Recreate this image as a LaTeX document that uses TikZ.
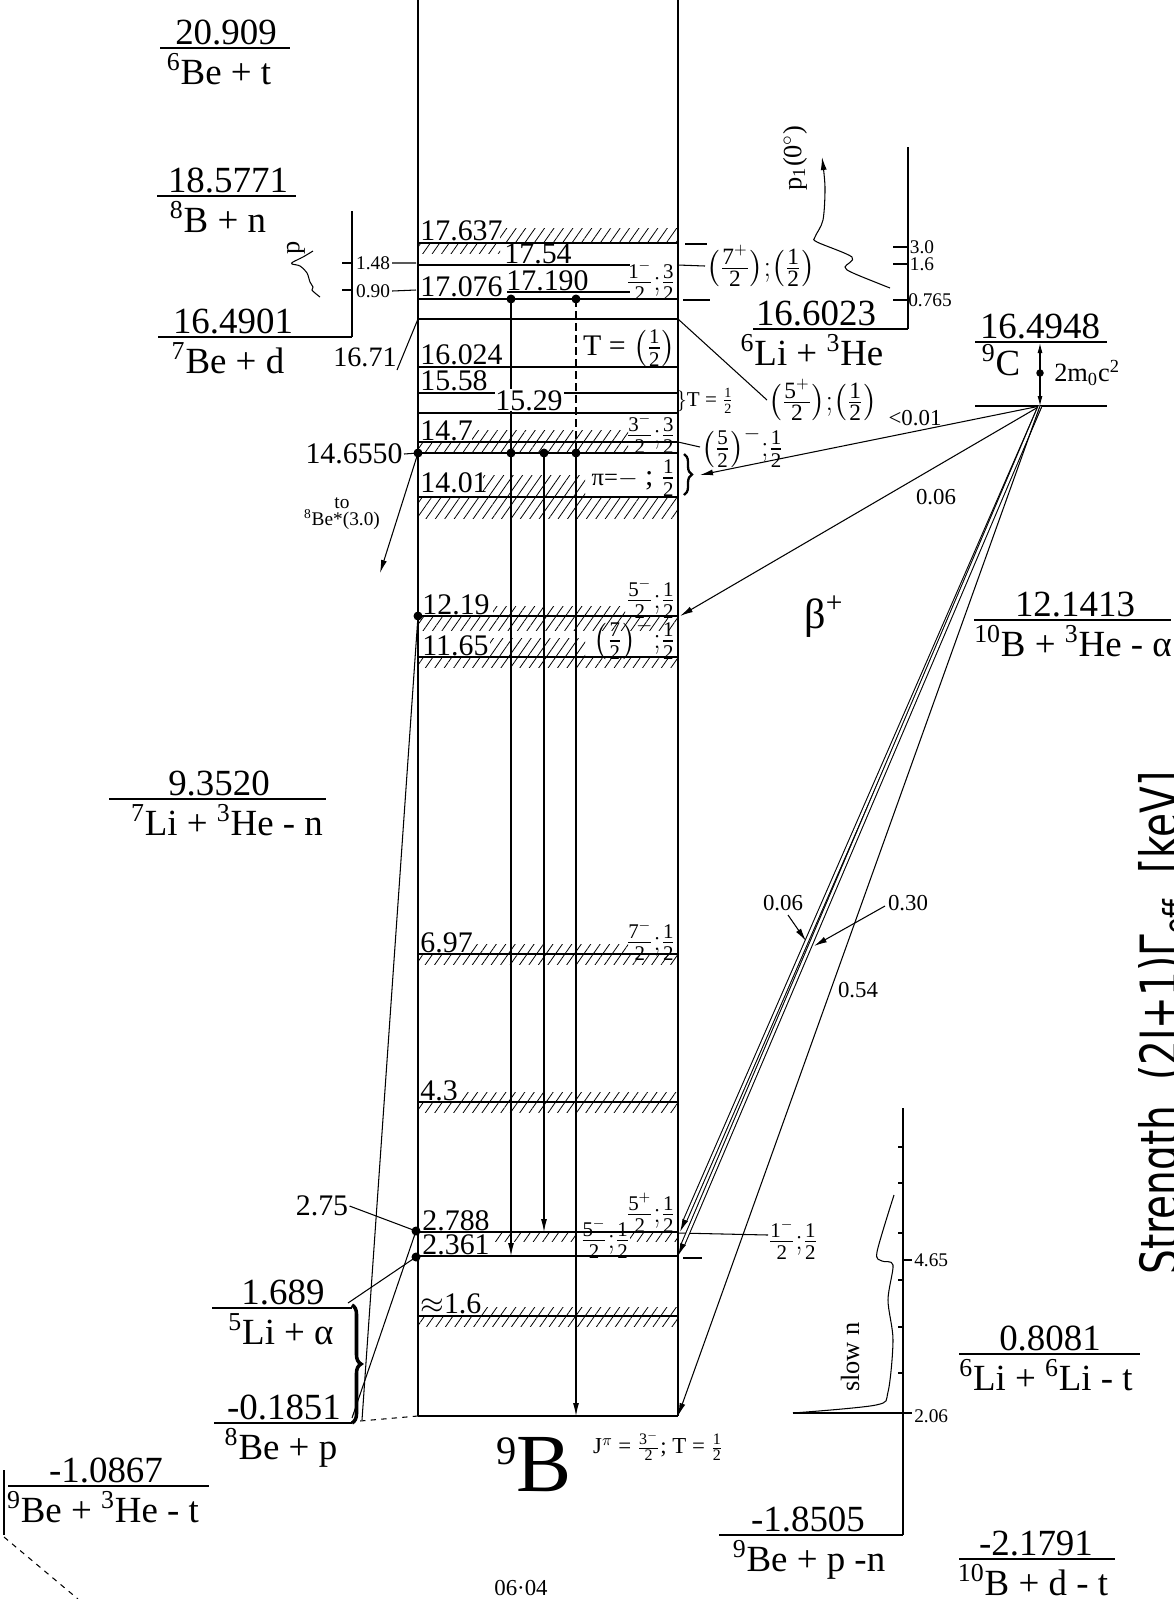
\documentclass[tikz,border=0pt]{standalone}
\usepackage{amsmath}
\usepackage{graphicx}
\usepackage{fontspec}
\setmainfont{Liberation Serif}
\newfontfamily\axisfont{DejaVu Sans}
\usetikzlibrary{arrows.meta,patterns.meta,decorations.pathreplacing}
\newcommand\hf[1]{\tfrac{\text{#1}}{\text{2}}}
\newcommand\hfp[2]{\tfrac{\text{#1}^{#2}}{\text{2}}}
\newcommand\sups[1]{\textsuperscript{#1}}
\begin{document}
\begin{tikzpicture}[x=0.2mm,y=-0.2mm,line width=0.6pt,
  hatch/.style={pattern={Lines[angle=55,distance=4.4pt,line width=0.45pt]}},
  thr/.style={font=\fontsize{21}{24}\selectfont,inner sep=0pt},
  elab/.style={font=\fontsize{17}{19}\selectfont,inner sep=0.5pt,anchor=base west},
  jlab/.style={font=\fontsize{17}{19}\selectfont,inner sep=0.5pt},
  jr/.style={jlab,anchor=east},
  smlab/.style={font=\fontsize{13}{15}\selectfont,inner sep=1pt},
  tnlab/.style={font=\fontsize{11}{13}\selectfont,inner sep=1pt},
  dot/.style={circle,fill,inner sep=0pt,minimum size=1.8mm},
  tip/.style={-{Latex[length=2.6mm,width=1.2mm]}}]
\useasboundingbox (0,0) rectangle (1174,1599);

\foreach \xa/\ya/\xb/\yb in {500/228/678/243, 418/243/500/253, 472/430/628/442, 418/442/628/453,
  483/475/585/497, 418/497/678/518, 493/606/625/616, 418/616/678/630, 490/638/585/657,
  418/657/678/667, 470/944/628/954, 418/954/678/964, 460/1092/678/1102, 418/1102/678/1112,
  493/1232/576/1241, 630/1232/678/1241, 480/1307/678/1316, 418/1316/678/1326}
  \fill[hatch] (\xa,\ya) rectangle (\xb,\yb);

\foreach \nm/\xa/\xb/\yy/\vx/\val/\rx/\reac in {
  a/160/290/48/226/20.909/219/{\sups{6}Be + t},
  b/157/296/196/228/18.5771/218/{\sups{8}B + n},
  c/158/352/337/233/16.4901/228/{\sups{7}Be + d},
  d/109/326/799/219/9.3520/227/{\sups{7}Li + \sups{3}He - n},
  e/212/352/1308/283/1.689/281/{\sups{5}Li + α},
  f/214/352/1423/284/-0.1851/281/{\sups{8}Be + p},
  g/8/209/1486/106/-1.0867/103/{\sups{9}Be + \sups{3}He - t},
  h/753/908/329/816/16.6023/812/{\sups{6}Li + \sups{3}He},
  i/974/1171/620/1075/12.1413/1073/{\sups{10}B + \sups{3}He - α},
  j/959/1140/1354/1050/0.8081/1046/{\sups{6}Li + \sups{6}Li - t},
  k/719/903/1535/808/-1.8505/809/{\sups{9}Be + p -n},
  l/959/1115/1559/1036/-2.1791/1033/{\sups{10}B + d - t}}
{\draw (\xa,\yy) -- (\xb,\yy);
 \node[thr,anchor=base] (v\nm) at (\vx,\yy-4) {\val};
 \node[thr,anchor=base] (r\nm) at (\rx,\yy+36) {\reac};}

\draw (975,342) -- (1107,342) (975,406) -- (1107,406);
\node[thr,anchor=base] (vC) at (1040,338) {16.4948};
\node[thr,anchor=base] (rC) at (1001,375) {\sups{9}C};
\coordinate (c9) at (1040,406);
\coordinate (c9t) at (1040,343);
\draw[{Latex[length=2mm,width=1mm]}-{Latex[length=2mm,width=1mm]}] (c9t) -- (c9);
\node[dot,minimum size=1.5mm] (m9) at (1040,373) {};
\node[smlab,anchor=west,font=\fontsize{15}{17}\selectfont] (mc) at (1052,373) {2m\textsubscript{0}c\sups{2}};

\draw (418,0) -- (418,1416) (678,0) -- (678,1416);
\foreach \yy in {243,299,319,367,393,413,442,453,497,616,657,954,1102,1232,1256,1316,1416}
  \draw (418,\yy) -- (678,\yy);
\draw (418,265) -- (630,265) (507,292) -- (630,292);

\node[dot] (d1) at (511,299) {};
\node[dot] (d2) at (576,299) {};
\node[dot] (d0) at (418,453) {};
\node[dot] (d3) at (511,453) {};
\node[dot] (d4) at (544,453) {};
\node[dot] (d5) at (576,453) {};
\node[dot] (d6) at (418,616) {};
\node[dot] (d7) at (416,1231) {};
\node[dot] (d8) at (416,1257) {};
\draw[tip] (d1.center) -- (511,1256);
\draw[tip] (d4.center) -- (544,1232);
\draw[dash pattern=on 1.6mm off 0.8mm] (d2.center) -- (d5.center);
\draw[tip] (d5.center) -- (576,1416);

\node[elab] (e1) at (419,240) {17.637};
\node[elab] (e2) at (503,263) {17.54};
\node[elab] (e3) at (419,296) {17.076};
\node[elab] (e4) at (505,290) {17.190};
\node[elab] (e5) at (419,364) {16.024};
\node[elab] (e6) at (419,390) {15.58};
\node[elab,fill=white] (e7) at (494,410) {15.29};
\node[elab] (e8) at (419,440) {14.7};
\node[elab] (e9) at (419,492) {14.01};
\node[elab] (e10) at (421,614) {12.19};
\node[elab] (e11) at (421,655) {11.65};
\node[elab] (e12) at (419,952) {6.97};
\node[elab] (e13) at (419,1100) {4.3};
\node[elab] (e14) at (421,1230) {2.788};
\node[elab] (e15) at (421,1254) {2.361};
\node[elab] (e16) at (419,1313) {$\approx$1.6};

\node[jr] (j1) at (677,281) {$\hfp{1}{-}{;}\hf{3}$};
\node[jr] (j2) at (677,348) {T = $\bigl(\hf{1}\bigr)$};
\node[tnlab,font=\fontsize{12}{14}\selectfont] (j3) at (705,401) {$\}$T = $\hf{1}$};
\node[jr] (j4) at (677,434) {$\hfp{3}{-}{;}\hf{3}$};
\node[jlab,anchor=west] (j5) at (700,447) {$\bigl(\hf{5}\bigr)^{-}{;}\hf{1}$};
\node[jr] (j6) at (677,478) {{\fontsize{14}{16}\selectfont π=$-$} ; $\hf{1}$};
\node[jr] (j7) at (677,599) {$\hfp{5}{-}{;}\hf{1}$};
\node[jr] (j8) at (677,639) {$\bigl(\hf{7}\bigr)^{-}{;}\hf{1}$};
\node[jr] (j9) at (677,941) {$\hfp{7}{-}{;}\hf{1}$};
\node[jlab,anchor=west] (j10) at (579,1239) {$\hfp{5}{-}{;}\hf{1}$};
\node[jr] (j11) at (677,1213) {$\hfp{5}{+}{;}\hf{1}$};
\node[jlab] (j12) at (793,1240) {$\hfp{1}{-}{;}\hf{1}$};
\node[jlab,font=\fontsize{19}{21}\selectfont,anchor=west] (j13) at (705,266) {$\bigl(\hfp{7}{+}\bigr){;}\bigl(\hf{1}\bigr)$};
\node[jlab,font=\fontsize{19}{21}\selectfont,anchor=west] (j14) at (767,400) {$\bigl(\hfp{5}{+}\bigr){;}\bigl(\hf{1}\bigr)$};
\node[tnlab,font=\fontsize{13}{15}\selectfont] (j15) at (658,1446) {J$^{\pi}$ = $\hfp{3}{-}$; T = $\hf{1}$};
\draw[decorate,decoration={brace,amplitude=1.6mm},line width=1.3pt] (684,454) -- (684,495);

\draw (685,244) -- (707,244) (683,300) -- (710,300);
\draw (678,265) -- (j13.west);
\draw (678,319) -- (j14.west);
\draw (678,442) -- (j5.west);
\draw (678,1233) -- (768,1235);
\draw[line width=1.3pt] (683,1258) -- (702,1258);

\node[elab,anchor=east] (e14655) at (404,454) {14.6550};
\draw (e14655.east) -- (d0.center);
\coordinate (to8) at (380,573);
\draw[tip] (d0.center) -- (to8);
\node[tnlab] (to1) at (342,503) {to};
\node[tnlab] (to2) at (342,520) {\sups{8}Be*(3.0)};
\node[elab,anchor=center,font=\fontsize{16}{18}\selectfont] (e1671) at (365,357) {16.71};
\draw (418,319) -- (397,370);
\node[elab,anchor=center] (e275) at (322,1206) {2.75};
\draw (e275.east) -- (d7.center);
\draw (d8.center) -- (348,1303);
\draw (d7.center) -- (352,1418);
\draw (d6.center) -- (362,1420);
\draw[decorate,decoration={brace,amplitude=1.8mm},line width=2pt] (352,1305) -- (352,1423);
\draw[dashed] (418,1416) -- (360,1421);

\draw (352,211) -- (352,337);
\draw (342,263) -- (352,263) (342,290) -- (352,290);
\node[tnlab] (k148) at (373,263) {1.48};
\node[tnlab] (k090) at (373,291) {0.90};
\draw (k148.east) -- (416,263) (k090.east) -- (416,290);
\node[smlab,rotate=90,font=\fontsize{15}{17}\selectfont] (pl) at (296,248) {p};
\draw plot[smooth,tension=0.5] coordinates {(313,251) (303,257) (293,262) (292,264) (300,266) (307,273) (310,282) (313,287) (312,290) (315,293) (320,297)};

\draw (908,147) -- (908,329);
\foreach \yy/\lb/\lx in {247/3.0/922, 264/1.6/922, 300/0.765/930}
  {\draw (893,\yy) -- (908,\yy); \node[tnlab] at (\lx,\yy) {\lb};}
\draw[tip] plot[smooth,tension=0.5] coordinates {(890,288) (853,273) (845,267) (852,257) (817,242) (815,237) (823,220) (825,187) (822,157)};
\node[smlab,rotate=90,font=\fontsize{15}{17}\selectfont] (p1l) at (795,158) {p\textsubscript{1}(0$^{\circ}$)};

\draw[tip] (c9) -- (700,475);
\draw[tip] (c9) -- (680,616);
\draw[tip,double,double distance=1.4pt] (c9) -- (680,1232);
\draw[tip,double,double distance=1.4pt] (c9) -- (678,1256);
\draw[tip] (c9) -- (678,1416);
\node[smlab] (t001) at (915,418) {<0.01};
\node[smlab] (t006) at (936,497) {0.06};
\node[font=\fontsize{24}{26}\selectfont] (beta) at (824,617) {β\sups{+}};
\node[smlab] (t006b) at (783,903) {0.06};
\draw[tip] (788,915) -- (806,941);
\node[smlab] (t030) at (908,903) {0.30};
\draw[tip] (885,906) -- (814,946);
\node[smlab] (t054) at (858,990) {0.54};

\draw (903,1108) -- (903,1535);
\foreach \yy in {1147,1183,1233,1280,1327,1373} \draw (898,\yy) -- (903,\yy);
\draw (903,1260) -- (912,1260) (903,1413) -- (912,1413);
\node[tnlab,anchor=west] (k465) at (912,1260) {4.65};
\node[tnlab,anchor=west] (k206) at (912,1416) {2.06};
\draw (793,1413) -- (903,1413);
\draw plot[smooth,tension=0.5] coordinates {(793,1413) (876,1405) (888,1392) (893,1340) (888,1300) (893,1265) (882,1261) (877,1252) (894,1195)};
\node[smlab,rotate=90,font=\fontsize{15}{17}\selectfont] (sn) at (850,1357) {slow n};

\node[anchor=base west,inner sep=0pt] (nine) at (496,1491) {{\fontsize{23}{23}\selectfont\raisebox{5.4mm}{9}}{\fontsize{47}{47}\selectfont B}};
\node[smlab] (date) at (521,1588) {06·04};

\draw (4,1470) -- (4,1535);
\draw[dashed] (4,1537) -- (78,1599);

\node[rotate=90,anchor=base west,inner sep=0pt,font=\axisfont\fontsize{30}{30}\selectfont] (axl) at (1178,1275) {\scalebox{0.74}[1]{Strength\ \ (2J+1)Γ\textsubscript{eff}\ \ [keV]}};
\end{tikzpicture}
\end{document}
